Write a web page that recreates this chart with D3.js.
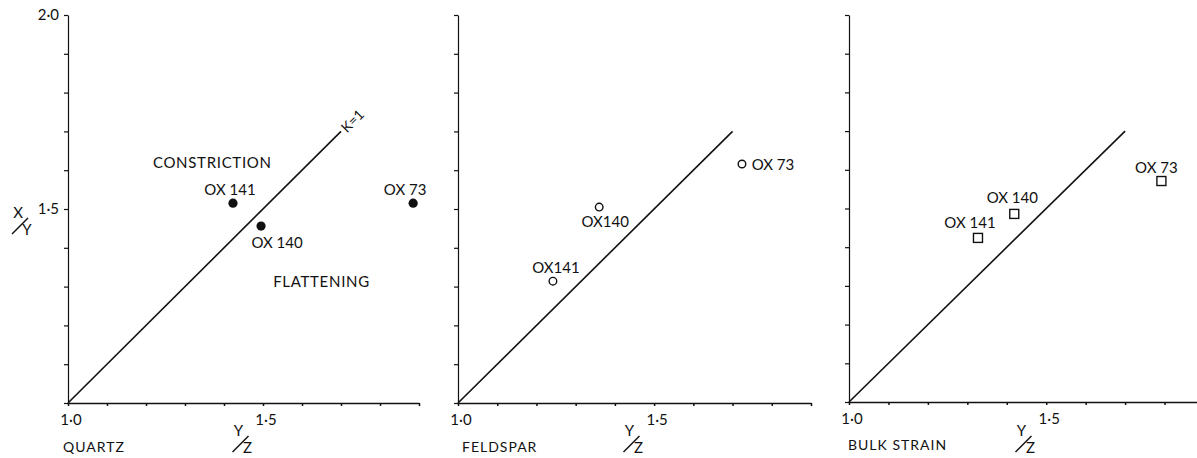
<!DOCTYPE html>
<html>
<head>
<meta charset="utf-8">
<script src="https://cdn.jsdelivr.net/npm/d3@7"></script>
<style>
  body { margin: 0; background: #fff; }
  text { font-family: Lato, "Open Sans", sans-serif; fill: #111; }
</style>
</head>
<body>
<script>
// strain ratios (x = Y/Z, y = X/Y)
const panelNames = ['QUARTZ', 'FELDSPAR', 'BULK STRAIN'];
const sampleNames = ['OX 141', 'OX 140', 'OX 73'];
const yzValues = [
  [1.423, 1.495, 1.885],
  [1.242, 1.360, 1.724],
  [1.327, 1.419, 1.792],
];
const xyValues = [
  [1.515, 1.456, 1.515],
  [1.314, 1.505, 1.616],
  [1.424, 1.486, 1.571],
];
const kLineEnd = [1.70, 1.70, 1.70];
const xTickValues = [1.0, 1.5];
const xTickLabels = ['1·0', '1·5'];
const yTickValues = [1.5, 2.0];
const yTickLabels = ['1·5', '2·0'];
const fieldNames = ['CONSTRICTION', 'FLATTENING'];
const fieldPos = [[1.37, 1.605], [1.65, 1.30]];

const svg = d3.select('body')
  .append('svg')
  .attr('width', 1197)
  .attr('height', 458);

const frames = [
  { x0: 68, x1: 419, y0: 403, y1: 15, title: 63 },
  { x0: 458, x1: 811, y0: 403, y1: 15, title: 462 },
  { x0: 849, x1: 1204, y0: 402, y1: 15, title: 848 },
];

// label offsets from each point (px), per panel
const labelOffsets = [
  [[-3, -8], [16, 22], [-8, -8]],
  [[3, -8], [6, 20], [31, 6]],
  [[-8, -10], [-2, -11], [-5, -8]],
];

function fraction (g, cx, cy, top, bottom) {
  g.append('text').attr('x', cx - 4).attr('y', cy - 1)
    .attr('text-anchor', 'middle').attr('font-size', 15).text(top);
  g.append('line')
    .attr('x1', cx - 10).attr('y1', cy + 15)
    .attr('x2', cx + 6).attr('y2', cy - 1)
    .attr('stroke', '#111').attr('stroke-width', 1.5);
  g.append('text').attr('x', cx + 5).attr('y', cy + 16)
    .attr('text-anchor', 'middle').attr('font-size', 15).text(bottom);
}

panelNames.forEach((name, p) => {
  const f = frames[p];
  const x = d3.scaleLinear().domain([1, 1.9]).range([f.x0, f.x1]);
  const y = d3.scaleLinear().domain([1, 2]).range([f.y0, f.y1]);
  const g = svg.append('g');

  const yAxis = d3.axisLeft(y)
    .tickValues(d3.range(0, 11).map(i => 1 + i / 10))
    .tickSize(4)
    .tickSizeOuter(0)
    .tickFormat('');
  g.append('g')
    .attr('transform', `translate(${f.x0},0)`)
    .call(yAxis)
    .call(a => a.selectAll('path, line').attr('stroke', '#111').attr('stroke-width', 1.2));

  const xAxis = d3.axisBottom(x)
    .tickValues(d3.range(0, 10).map(i => 1 + i / 10))
    .tickSize(3)
    .tickSizeOuter(0)
    .tickFormat('');
  g.append('g')
    .attr('transform', `translate(0,${f.y0})`)
    .call(xAxis)
    .call(a => a.selectAll('path, line').attr('stroke', '#111').attr('stroke-width', 1.5));

  g.selectAll('.xlab')
    .data(xTickValues)
    .enter()
      .append('text')
      .attr('class', 'xlab')
      .attr('x', d => x(d) + 3)
      .attr('y', f.y0 + 22)
      .attr('text-anchor', 'middle')
      .attr('font-size', 15)
      .text((d, i) => xTickLabels[i]);

  if (p === 0) {
    g.selectAll('.ylab')
      .data(yTickValues)
      .enter()
        .append('text')
        .attr('class', 'ylab')
        .attr('x', f.x0 - 9)
        .attr('y', d => y(d) + 5)
        .attr('text-anchor', 'end')
        .attr('font-size', 15)
        .text((d, i) => yTickLabels[i]);
    fraction(g, 22, 219, 'X', 'Y');

    g.selectAll('.field')
      .data(fieldNames)
      .enter()
        .append('text')
        .attr('class', 'field')
        .attr('x', (d, i) => x(fieldPos[i][0]))
        .attr('y', (d, i) => y(fieldPos[i][1]))
        .attr('text-anchor', 'middle')
        .attr('font-size', 15)
        .attr('letter-spacing', 0.7)
        .text(d => d);
  }

  // K = 1 line
  g.append('line')
    .attr('x1', x(1)).attr('y1', y(1))
    .attr('x2', x(kLineEnd[p])).attr('y2', y(kLineEnd[p]))
    .attr('stroke', '#111')
    .attr('stroke-width', 1.6);

  if (p === 0) {
    const ex = x(kLineEnd[p]), ey = y(kLineEnd[p]);
    const ang = Math.atan2(ey - y(1), ex - x(1)) * 180 / Math.PI;
    g.append('text')
      .attr('transform', `translate(${ex + 6},${ey + 2}) rotate(${ang})`)
      .attr('font-size', 14)
      .text('K=1');
  }

  const pts = sampleNames.map((s, i) => ({ s, i, yz: yzValues[p][i], xy: xyValues[p][i] }));

  if (p === 0) {
    g.selectAll('.pt').data(pts).enter()
      .append('circle').attr('class', 'pt')
      .attr('cx', d => x(d.yz)).attr('cy', d => y(d.xy))
      .attr('r', 4.6).attr('fill', '#111');
  } else if (p === 1) {
    g.selectAll('.pt').data(pts).enter()
      .append('circle').attr('class', 'pt')
      .attr('cx', d => x(d.yz)).attr('cy', d => y(d.xy))
      .attr('r', 3.8).attr('fill', 'none')
      .attr('stroke', '#111').attr('stroke-width', 1.4);
  } else {
    g.selectAll('.pt').data(pts).enter()
      .append('rect').attr('class', 'pt')
      .attr('x', d => x(d.yz) - 4.5).attr('y', d => y(d.xy) - 4.5)
      .attr('width', 9).attr('height', 9)
      .attr('fill', 'none')
      .attr('stroke', '#111').attr('stroke-width', 1.4);
  }

  g.selectAll('.lab').data(pts).enter()
    .append('text').attr('class', 'lab')
    .attr('x', d => x(d.yz) + labelOffsets[p][d.i][0])
    .attr('y', d => y(d.xy) + labelOffsets[p][d.i][1])
    .attr('text-anchor', 'middle')
    .attr('font-size', 15)
    .text(d => p === 1 && d.i < 2 ? d.s.replace(' ', '') : d.s);

  // panel title and x-axis fraction
  g.append('text')
    .attr('x', f.title)
    .attr('y', p === 2 ? 450 : 452)
    .attr('font-size', 14)
    .attr('letter-spacing', 1)
    .text(name);
  fraction(g, x(1.45) - 1, 437, 'Y', 'Z');
});
</script>
</body>
</html>
